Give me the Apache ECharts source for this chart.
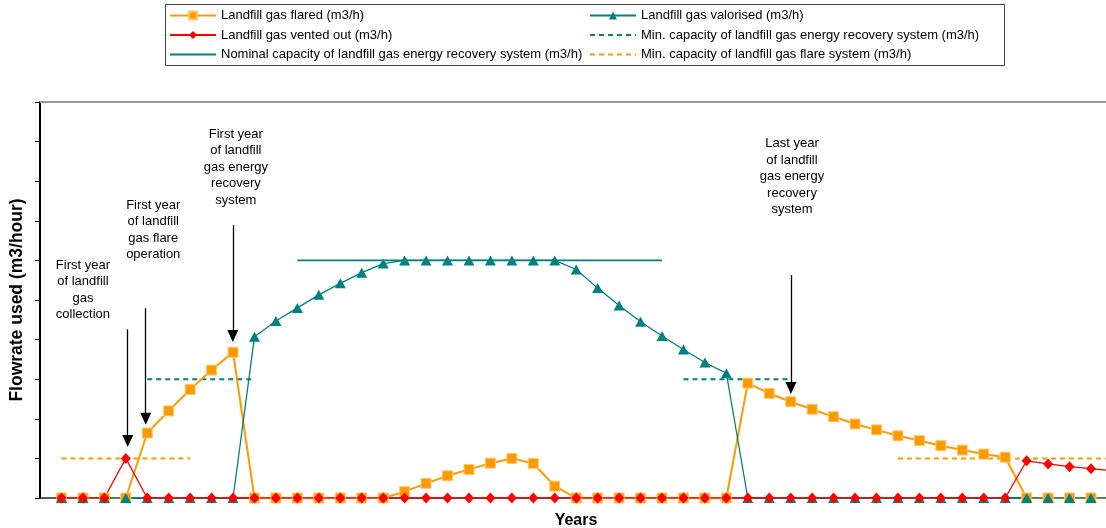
<!DOCTYPE html>
<html>
<head>
<meta charset="utf-8" />
<title>Landfill gas flowrates</title>
<script src="https://cdn.jsdelivr.net/npm/echarts@6/dist/echarts.min.js"></script>
<style>
  html, body { margin: 0; padding: 0; background: #fff; }
  #main { width: 1106px; height: 528px; }
</style>
</head>
<body>
<div id="main"></div>
<script type="text/javascript">
// years on the x axis (year 50 sits just past the right edge)
var years = [1,2,3,4,5,6,7,8,9,10,11,12,13,14,15,16,17,18,19,20,21,22,23,24,25,
             26,27,28,29,30,31,32,33,34,35,36,37,38,39,40,41,42,43,44,45,46,47,48,49,50];

var flared = [0,0,0,0,1.64,2.2,2.74,3.23,3.68,0,0,0,0,0,0,0,0.16,0.37,0.56,0.72,0.88,1.0,0.87,0.30,0,
              0,0,0,0,0,0,0,2.9,2.64,2.43,2.24,2.05,1.87,1.72,1.57,1.45,1.32,1.21,1.11,1.03,0,0,0,0,0];

var valorised = [0,0,0,0,0,0,0,0,0,4.07,4.47,4.8,5.13,5.42,5.69,5.92,6,6,6,6,6,6,6,6,5.77,
                 5.3,4.86,4.45,4.09,3.75,3.42,3.15,0,0,0,0,0,0,0,0,0,0,0,0,0,0,0,0,0,0];

var vented = [0,0,0,1.0,0,0,0,0,0,0,0,0,0,0,0,0,0,0,0,0,0,0,0,0,0,
              0,0,0,0,0,0,0,0,0,0,0,0,0,0,0,0,0,0,0,0,0.94,0.86,0.79,0.74,0.69];

var nominalCap = [null,null,null,null,null,null,null,null,null,null,null,6,6,6,6,6,6,6,6,6,6,6,6,6,6,
                  6,6,6,6,null,null,null,null,null,null,null,null,null,null,null,null,null,null,null,null,null,null,null,null,null];

var minEnergyCap = [null,null,null,null,3,3,3,3,3,3,null,null,null,null,null,null,null,null,null,null,null,null,null,null,null,
                    null,null,null,null,3,3,3,3,3,3,null,null,null,null,null,null,null,null,null,null,null,null,null,null,null];

var minFlareCap = [1,1,1,1,1,1,1,null,null,null,null,null,null,null,null,null,null,null,null,null,null,null,null,null,null,
                   null,null,null,null,null,null,null,null,null,null,null,null,null,null,1,1,1,1,1,1,1,1,1,1,1];

// annotation texts and arrows (year, flowrate)
var notes = [
  { text: 'First year\nof landfill\ngas\ncollection', at: [2.0, 5.25], from: [4.09, 4.26], to: [4.09, 1.44] },
  { text: 'First year\nof landfill\ngas flare\noperation', at: [5.28, 6.77], from: [4.93, 4.79], to: [4.93, 2.0] },
  { text: 'First year\nof landfill\ngas energy\nrecovery\nsystem', at: [9.13, 8.36], from: [8.99, 6.89], to: [8.99, 4.09] },
  { text: 'Last year\nof landfill\ngas energy\nrecovery\nsystem', at: [35.06, 8.11], from: [35.01, 5.63], to: [35.01, 2.78] }
];

function pairs(arr) {
  return years.map(function (y, i) { return [y, arr[i]]; });
}

var FONT = '"Liberation Sans", Arial, sans-serif';
var ORANGE = '#FF9900', TEAL = '#008080', RED = '#FF0000';
var noMarker = { opacity: 0, color: 'rgba(0,0,0,0)', borderWidth: 0 };

var legendBase = {
  orient: 'vertical', top: 9, padding: 0,
  itemWidth: 46, itemHeight: 10, itemGap: 6.5,
  textStyle: { fontFamily: FONT, fontSize: 13, color: '#000' }
};

var myChart = echarts.init(document.getElementById('main'));
var option = {
  animation: false,
  backgroundColor: '#fff',
  textStyle: { fontFamily: FONT },
  grid: { left: 40, right: 0, top: 102, bottom: 30, outerBoundsMode: 'none', containLabel: false },
  legend: [
    Object.assign({}, legendBase, {
      left: 169,
      data: [
        'Landfill gas flared (m3/h)',
        'Landfill gas vented out (m3/h)',
        { name: 'Nominal capacity of landfill gas energy recovery system (m3/h)', itemStyle: noMarker }
      ]
    }),
    Object.assign({}, legendBase, {
      left: 589,
      data: [
        'Landfill gas valorised (m3/h)',
        { name: 'Min. capacity of landfill gas energy recovery system (m3/h)', itemStyle: noMarker },
        { name: 'Min. capacity of landfill gas flare system (m3/h)', itemStyle: noMarker }
      ]
    })
  ],
  graphic: [{
    type: 'rect', silent: true,
    shape: { x: 165.5, y: 4.5, width: 839, height: 61 },
    style: { fill: 'none', stroke: '#444', lineWidth: 1 }
  }],
  xAxis: [{
    type: 'value', min: 0, max: 49.7, position: 'bottom',
    name: 'Years', nameLocation: 'middle', nameGap: 15,
    nameTextStyle: { fontFamily: FONT, fontSize: 16, fontWeight: 'bold', color: '#000', padding: [0, 0, 0, 6] },
    axisLine: { lineStyle: { color: '#222', width: 1.5 } },
    axisTick: { show: false }, axisLabel: { show: false }, splitLine: { show: false }
  }, {
    type: 'value', min: 0, max: 49.7, position: 'top',
    axisLine: { lineStyle: { color: '#999', width: 2 } },
    axisTick: { show: false }, axisLabel: { show: false }, splitLine: { show: false }
  }],
  yAxis: {
    type: 'value', min: 0, max: 10, interval: 1,
    name: 'Flowrate used (m3/hour)', nameLocation: 'middle', nameRotate: 90, nameGap: 14,
    nameTextStyle: { fontFamily: FONT, fontSize: 17.5, fontWeight: 'bold', color: '#000' },
    axisLine: { show: true, lineStyle: { color: '#000', width: 2 } },
    axisTick: { show: true, length: 5, lineStyle: { color: '#000', width: 1 } },
    axisLabel: { show: false }, splitLine: { show: false }
  },
  series: [
    {
      name: 'Min. capacity of landfill gas flare system (m3/h)', type: 'line',
      data: pairs(minFlareCap), symbol: 'none', connectNulls: false,
      lineStyle: { color: ORANGE, width: 2, type: [5, 4] }, itemStyle: { color: ORANGE }
    },
    {
      name: 'Min. capacity of landfill gas energy recovery system (m3/h)', type: 'line',
      data: pairs(minEnergyCap), symbol: 'none', connectNulls: false,
      lineStyle: { color: TEAL, width: 2, type: [5, 4] }, itemStyle: { color: TEAL }
    },
    {
      name: 'Nominal capacity of landfill gas energy recovery system (m3/h)', type: 'line',
      data: pairs(nominalCap), symbol: 'none', connectNulls: false,
      lineStyle: { color: TEAL, width: 1.6 }, itemStyle: { color: TEAL }
    },
    {
      name: 'Landfill gas flared (m3/h)', type: 'line',
      data: pairs(flared), symbol: 'rect', symbolSize: 10,
      lineStyle: { color: ORANGE, width: 2 },
      itemStyle: { color: ORANGE, borderColor: '#FFC870', borderWidth: 1 }
    },
    {
      name: 'Landfill gas valorised (m3/h)', type: 'line',
      data: pairs(valorised), symbol: 'triangle', symbolSize: [11, 10],
      lineStyle: { color: TEAL, width: 1.3 }, itemStyle: { color: TEAL }
    },
    {
      name: 'Landfill gas vented out (m3/h)', type: 'line',
      data: pairs(vented), symbol: 'diamond', symbolSize: [10, 11],
      lineStyle: { color: RED, width: 1.3 }, itemStyle: { color: RED },
      markLine: {
        silent: true, symbol: ['none', 'triangle'], symbolSize: [11, 12],
        lineStyle: { color: '#000', width: 1.3, type: 'solid' },
        label: { show: false },
        data: notes.map(function (n) { return [{ coord: n.from }, { coord: n.to }]; })
      },
      markPoint: {
        silent: true, symbol: 'circle', symbolSize: 1,
        itemStyle: { color: 'rgba(0,0,0,0)' },
        label: {
          show: true, position: 'inside', formatter: '{b}',
          fontFamily: FONT, fontSize: 13, lineHeight: 16.5, color: '#000', align: 'center'
        },
        data: notes.map(function (n) { return { name: n.text, coord: n.at }; })
      }
    }
  ]
};
myChart.setOption(option);
</script>
</body>
</html>
